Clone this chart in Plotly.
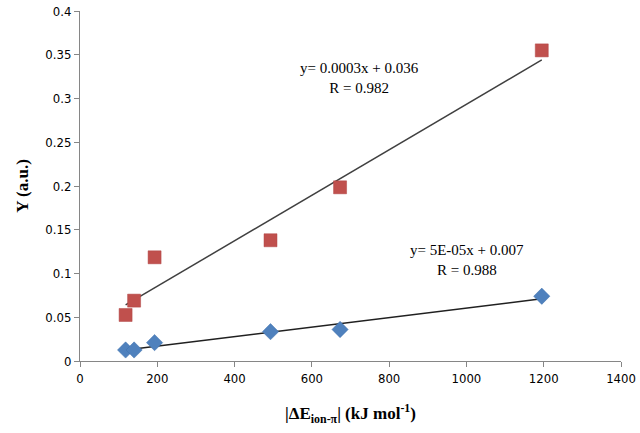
import numpy as np
import plotly.graph_objects as go

# data
x_vals = [118, 140, 193, 493, 673, 1195]
y_red = [0.0526, 0.069, 0.1185, 0.138, 0.1985, 0.355]
y_blue = [0.0126, 0.0126, 0.021, 0.0335, 0.036, 0.074]
eq_red = ["y= 0.0003x + 0.036", "R = 0.982"]
eq_blue = ["y= 5E-05x + 0.007", "R = 0.988"]
x_ticks = [0, 200, 400, 600, 800, 1000, 1200, 1400]
y_ticks = [0, 0.05, 0.1, 0.15, 0.2, 0.25, 0.3, 0.35, 0.4]
y_tick_text = ["0", "0.05", "0.1", "0.15", "0.2", "0.25", "0.3", "0.35", "0.4"]

RED = "#C0504D"
BLUE = "#4F81BD"

fig = go.Figure()

def trend(xs, ys):
    m, b = np.polyfit(xs, ys, 1)
    xx = [min(xs), max(xs)]
    return xx, [m * v + b for v in xx]

tx, ty = trend(x_vals, y_red)
fig.add_trace(go.Scatter(x=tx, y=ty, mode="lines", line=dict(color="#404040", width=1.5), showlegend=False))
tx, ty = trend(x_vals, y_blue)
fig.add_trace(go.Scatter(x=tx, y=ty, mode="lines", line=dict(color="#202020", width=1.5), showlegend=False))

fig.add_trace(go.Scatter(x=x_vals, y=y_red, mode="markers",
                         marker=dict(symbol="square", size=13, color=RED,
                                     line=dict(width=0.5, color="#B04545")),
                         showlegend=False))
fig.add_trace(go.Scatter(x=x_vals, y=y_blue, mode="markers",
                         marker=dict(symbol="diamond", size=12.5, color=BLUE,
                                     line=dict(width=0.5, color="#3F71AD")),
                         showlegend=False))

fig.add_annotation(x=722, y=0.323, text="<br>".join(eq_red), showarrow=False,
                   font=dict(family="Liberation Serif", size=15, color="#000"))
fig.add_annotation(x=1001, y=0.1155, text="<br>".join(eq_blue), showarrow=False,
                   font=dict(family="Liberation Serif", size=15, color="#000"))

axis_common = dict(showgrid=False, zeroline=False, showline=True, linecolor="#868686",
                   linewidth=1, ticks="outside", tickcolor="#868686", ticklen=5,
                   automargin=False,
                   tickfont=dict(family="DejaVu Sans Condensed", size=13, color="#000"))

fig.update_xaxes(range=[0, 1400], tickvals=x_ticks, ticktext=[str(v) for v in x_ticks],
                 title=dict(text="<b>|ΔE<sub>ion-π</sub>| (kJ mol<sup>-1</sup>)</b>",
                            font=dict(family="Liberation Serif", size=17, color="#000"),
                            standoff=22),
                 **axis_common)
fig.update_yaxes(range=[0, 0.4], tickvals=y_ticks, ticktext=y_tick_text,
                 title=dict(text="<b>Y (a.u.)</b>",
                            font=dict(family="Liberation Serif", size=17, color="#000"),
                            standoff=12),
                 **axis_common)

fig.update_layout(width=640, height=433, margin=dict(l=80, r=19, t=11, b=72),
                  plot_bgcolor="white", paper_bgcolor="white")

fig.write_html("out.html", config={"displayModeBar": False},
               post_script="document.body.style.margin='0';")
